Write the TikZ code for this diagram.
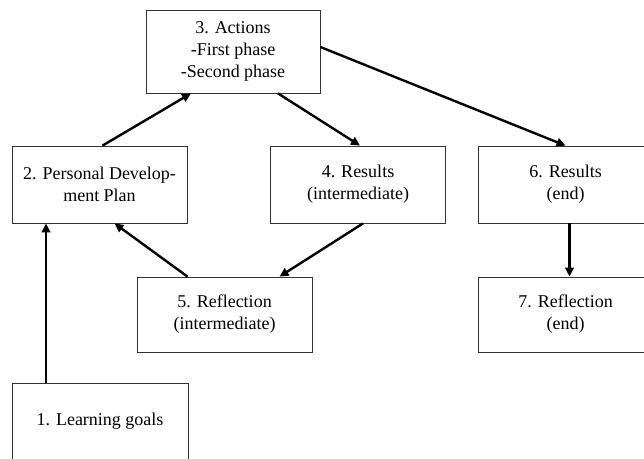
\documentclass[tikz,border=0pt]{standalone}
\usepackage{fontspec}
\setmainfont{Liberation Serif}
\usetikzlibrary{arrows.meta}

\begin{document}
\begin{tikzpicture}[x=1pt, y=-1pt,
    box/.style = {draw = black!80, line width = 0.8pt, rectangle, align = center,
      minimum width = 175pt, minimum height = 77pt, inner sep = 0pt,
      font = \fontsize{18}{22}\selectfont},
    flow/.style = {line width = 2.4pt, -{Triangle[length = 9pt, width = 8.5pt]}}]
  \fill [white] (0, 0) rectangle (644, 458);
  \useasboundingbox (0, 0) rectangle (644, 458);
  % boxes
  \node [box, minimum width = 174pt, minimum height = 83pt] (actions) at (233, 51.5) {3. Actions\\-First phase\\-Second phase};
  \node [box] (plan) at (99.5, 184.5) {2. Personal Develop-\\ment Plan};
  \node [box] (resmid) at (358, 184.5) {4. Results\\(intermediate)};
  \node [box] (resend) at (565.5, 184.5) {6. Results\\(end)};
  \node [box, minimum height = 75pt] (reflmid) at (224.5, 314.5) {5. Reflection\\(intermediate)};
  \node [box, minimum height = 75pt] (reflend) at (565.5, 314.5) {7. Reflection\\(end)};
  \node [box, minimum width = 176pt] (goals) at (100, 421.5) {1. Learning goals};
  % arrows
  \draw [flow] ([xshift = -54pt] goals.north) -- ([xshift = -54pt] goals.north |- plan.south);
  \draw [flow] ([xshift = 3pt] plan.north) -- ([xshift = -42pt] actions.south);
  \draw [flow] ([xshift = 45pt] actions.south) -- ([xshift = 2pt] resmid.north);
  \draw [flow] ([yshift = 4.5pt] actions.east) -- (resend.north);
  \draw [flow] ([xshift = 5pt] resmid.south) -- ([xshift = 55pt] reflmid.north);
  \draw [flow] ([xshift = -37pt] reflmid.north) -- ([xshift = 15pt] plan.south);
  \draw [flow] ([xshift = 4pt] resend.south) -- ([xshift = 4pt] reflend.north);
\end{tikzpicture}
\end{document}
